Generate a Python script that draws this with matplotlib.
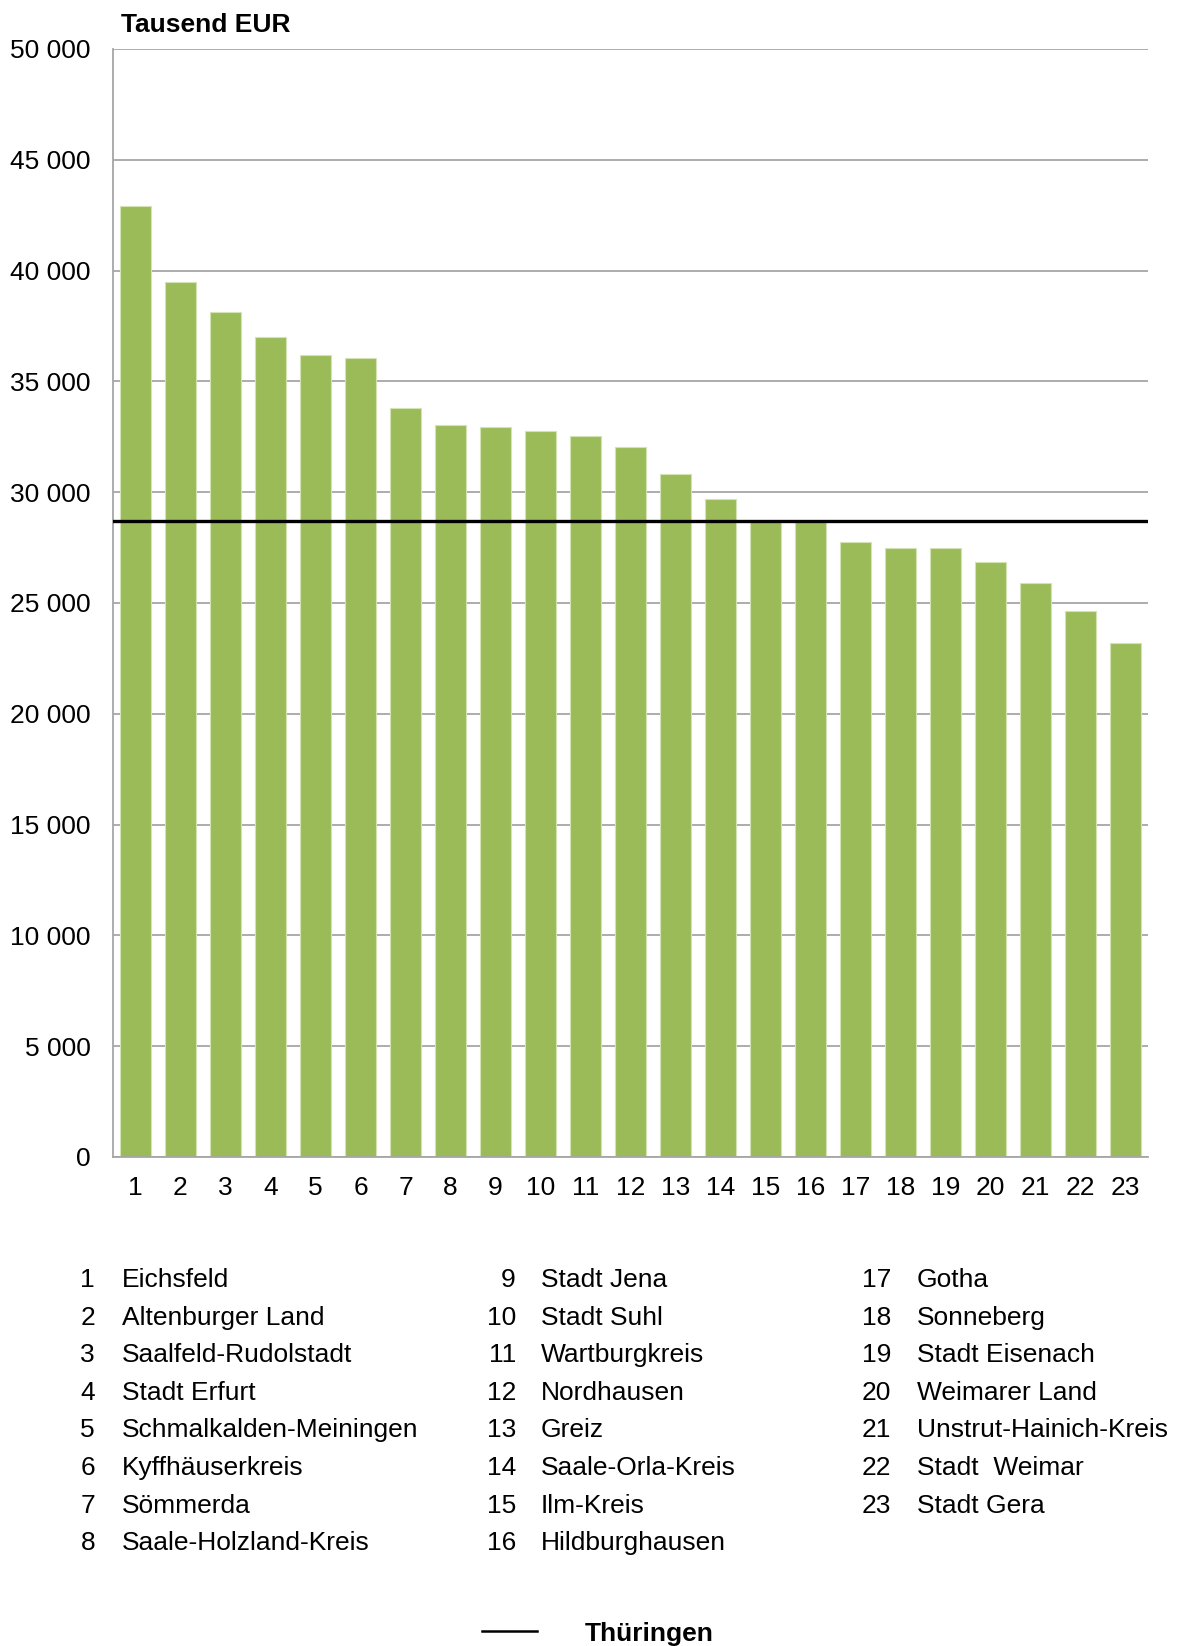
import numpy as np
import matplotlib.pyplot as plt
from matplotlib.lines import Line2D

plt.rcParams['font.family'] = ['Liberation Sans', 'DejaVu Sans']

# Kreise in Thüringen, sortiert nach Wert (Tausend EUR)
kreise = [
    "Eichsfeld", "Altenburger Land", "Saalfeld-Rudolstadt", "Stadt Erfurt",
    "Schmalkalden-Meiningen", "Kyffhäuserkreis", "Sömmerda", "Saale-Holzland-Kreis",
    "Stadt Jena", "Stadt Suhl", "Wartburgkreis", "Nordhausen", "Greiz",
    "Saale-Orla-Kreis", "Ilm-Kreis", "Hildburghausen", "Gotha", "Sonneberg",
    "Stadt Eisenach", "Weimarer Land", "Unstrut-Hainich-Kreis", "Stadt  Weimar",
    "Stadt Gera",
]
werte = [42900, 39500, 38120, 37000, 36180, 36060, 33820, 33010, 32920, 32760,
         32520, 32040, 30840, 29690, 28680, 28650, 27760, 27500, 27490, 26840,
         25900, 24620, 23190]
thueringen = 28720

yticks = np.arange(0, 50001, 5000)
ytick_labels = ["0" if v == 0 else f"{v // 1000} {v % 1000:03d}" for v in yticks]

W, H = 1187, 1646
fs = 19
fig = plt.figure(figsize=(W / 100, H / 100), dpi=100)
ax = fig.add_axes([113 / W, 1 - 1157 / H, (1148 - 113) / W, (1157 - 49) / H])

x = np.arange(len(werte))
ax.bar(x, werte, width=0.68, color="#9BBB59", edgecolor="#D4E3B5", linewidth=0.8, zorder=2)
ax.axhline(thueringen, color="black", linewidth=2.4, zorder=3)

ax.set_xlim(-0.5, len(werte) - 0.5)
ax.set_ylim(0, 50000)
ax.set_yticks(yticks)
ax.set_yticklabels(ytick_labels)
ax.set_xticks(x)
ax.set_xticklabels([str(i + 1) for i in x])
ax.tick_params(axis="y", length=0, pad=16, labelsize=fs)
ax.tick_params(axis="x", length=0, pad=14, labelsize=fs)
ax.grid(axis="y", color="#A6A6A6", linewidth=1.3, zorder=0)
ax.set_axisbelow(True)
for s in ["top", "right"]:
    ax.spines[s].set_visible(False)
for s in ["left", "bottom"]:
    ax.spines[s].set_color("#A6A6A6")
    ax.spines[s].set_linewidth(1.3)

fig.text(121 / W, 1 - 25 / H, "Tausend EUR", fontsize=fs, fontweight="bold", va="center", ha="left")

# Legende der Kreisnummern in drei Spalten
num_x = [95, 516, 891]
name_x = [122, 541, 917]
row0, dy = 1280, 37.6
for i, name in enumerate(kreise):
    col, row = divmod(i, 8)
    y = 1 - (row0 + row * dy) / H
    fig.text(num_x[col] / W, y, str(i + 1), fontsize=fs, ha="right", va="center")
    fig.text(name_x[col] / W, y, name, fontsize=fs, ha="left", va="center")

fig.add_artist(Line2D([482 / W, 537 / W], [1 - 1631 / H] * 2, color="black", linewidth=1.8))
fig.text(585 / W, 1 - 1634 / H, "Thüringen", fontsize=fs, fontweight="bold", ha="left", va="center")

fig.savefig("out.png", dpi=100)
